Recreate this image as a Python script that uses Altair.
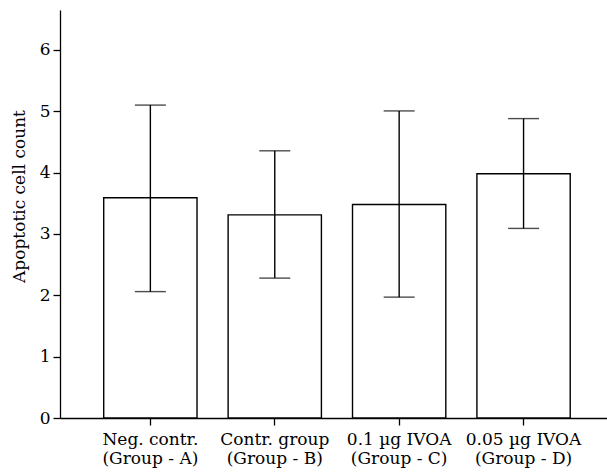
import altair as alt
import pandas as pd

groups = ["Neg. contr.|(Group - A)", "Contr. group|(Group - B)",
          "0.1 µg IVOA|(Group - C)", "0.05 µg IVOA|(Group - D)"]
means = [3.59, 3.31, 3.48, 3.98]
lowers = [2.06, 2.28, 1.97, 3.09]
uppers = [5.10, 4.355, 5.005, 4.88]
y_ticks = [0, 1, 2, 3, 4, 5, 6]

df = pd.DataFrame({"group": groups, "mean": means, "lower": lowers, "upper": uppers})

FONT = "DejaVu Serif"

xscale = alt.Scale(paddingInner=0.25, paddingOuter=0.3236, align=0.543)
yscale = alt.Scale(domain=[0, 6.65], nice=False, zero=True)

x_enc = alt.X("group:N", sort=None, scale=xscale,
              axis=alt.Axis(title=None, labelAngle=0,
                            labelExpr="split(datum.value, '|')",
                            labelLineHeight=19, labelPadding=6))

base = alt.Chart(df)

bars = base.mark_bar(fill="white", stroke="black", strokeWidth=1.4).encode(
    x=x_enc,
    y=alt.Y("mean:Q", scale=yscale,
            axis=alt.Axis(title="Apoptotic cell count", values=y_ticks, format="d",
                          titleAngle=-90, titleX=-41, titleY=186,
                          titleAlign="center", titleBaseline="middle",
                          labelPadding=3)),
)

err = base.mark_rule(color="black", strokeWidth=1.4).encode(
    x=alt.X("group:N", sort=None, scale=xscale),
    y=alt.Y("lower:Q", scale=yscale),
    y2="upper:Q",
)

cap_lo = base.mark_tick(color="black", size=31, thickness=1.4).encode(
    x=alt.X("group:N", sort=None, scale=xscale),
    y=alt.Y("lower:Q", scale=yscale),
)
cap_hi = base.mark_tick(color="black", size=31, thickness=1.4).encode(
    x=alt.X("group:N", sort=None, scale=xscale),
    y=alt.Y("upper:Q", scale=yscale),
)

chart = alt.layer(bars, err, cap_lo, cap_hi).properties(
    width=547, height=408,
    autosize=alt.AutoSizeParams(type="none"),
    padding={"left": 60, "top": 10, "right": 0, "bottom": 54},
).configure_view(stroke=None).configure_axis(
    labelFont=FONT, titleFont=FONT, labelFontSize=17, titleFontSize=17,
    titleFontWeight="normal", labelColor="black", titleColor="black",
    domainColor="black", tickColor="black", domainWidth=1.3, tickWidth=1.3,
    tickSize=7, grid=False,
)

chart.save("out.html", embed_options={"renderer": "svg", "actions": False})
